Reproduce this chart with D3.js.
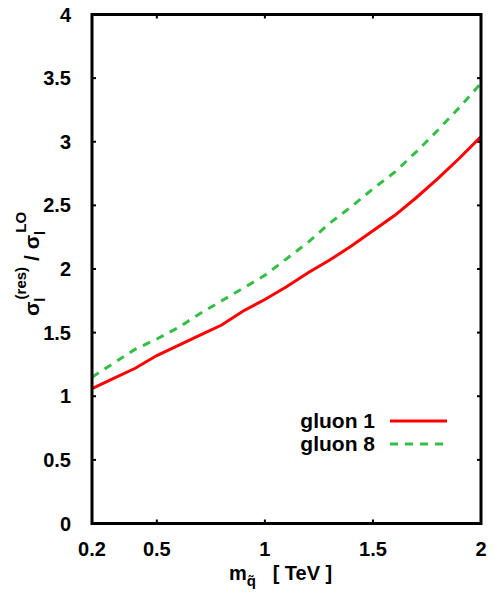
<!DOCTYPE html>
<html>
<head>
<meta charset="utf-8">
<script src="https://cdn.jsdelivr.net/npm/d3@7"></script>
<style>
  html, body { margin: 0; padding: 0; background: #fff; }
  svg text { font-family: "Liberation Sans", Arial, sans-serif; font-weight: bold; fill: #000; }
</style>
</head>
<body>
<svg id="chart" width="495" height="596"></svg>
<script>
// squark mass in TeV
const masses = [0.2, 0.3, 0.4, 0.5, 0.6, 0.7, 0.8, 0.9, 1.0, 1.1, 1.2, 1.3, 1.4, 1.5, 1.6, 1.7, 1.8, 1.9, 2.0];
// resummed / LO cross-section ratio for each gluon colour state
const gluon1 = [1.06, 1.14, 1.22, 1.32, 1.40, 1.48, 1.56, 1.67, 1.76, 1.86, 1.97, 2.07, 2.18, 2.30, 2.42, 2.56, 2.71, 2.87, 3.04];
const gluon8 = [1.15, 1.26, 1.37, 1.45, 1.54, 1.65, 1.75, 1.85, 1.95, 2.08, 2.21, 2.36, 2.49, 2.63, 2.76, 2.92, 3.09, 3.27, 3.46];
const seriesNames = ["gluon 1", "gluon 8"];
const xTicks = [0.2, 0.5, 1, 1.5, 2];
const xTickLabels = ["0.2", "0.5", "1", "1.5", "2"];
const yTicks = [0, 0.5, 1, 1.5, 2, 2.5, 3, 3.5, 4];
const yTickLabels = ["0", "0.5", "1", "1.5", "2", "2.5", "3", "3.5", "4"];

const svg = d3.select("#chart");
const plotL = 92, plotR = 481, plotT = 14.5, plotB = 523.5;

const x = d3.scaleLinear().domain([0.2, 2]).range([plotL, plotR]);
const y = d3.scaleLinear().domain([0, 4]).range([plotB, plotT]);

const fontSize = 20;
const smallSize = 15;

// inner tick marks on all four sides (skip the corners)
const tickLen = 4;
const g = svg.append("g");
xTicks.filter(v => v > 0.2 && v < 2).forEach(v => {
  g.append("line").attr("x1", x(v)).attr("x2", x(v)).attr("y1", plotB).attr("y2", plotB - tickLen)
    .attr("stroke", "#000").attr("stroke-width", 2);
  g.append("line").attr("x1", x(v)).attr("x2", x(v)).attr("y1", plotT).attr("y2", plotT + tickLen)
    .attr("stroke", "#000").attr("stroke-width", 2);
});
yTicks.filter(v => v > 0 && v < 4).forEach(v => {
  g.append("line").attr("x1", plotL).attr("x2", plotL + tickLen).attr("y1", y(v)).attr("y2", y(v))
    .attr("stroke", "#000").attr("stroke-width", 2);
  g.append("line").attr("x1", plotR).attr("x2", plotR - tickLen).attr("y1", y(v)).attr("y2", y(v))
    .attr("stroke", "#000").attr("stroke-width", 2);
});

// tick labels
svg.append("g").selectAll("text").data(xTicks).join("text")
  .attr("x", d => x(d)).attr("y", 556)
  .attr("text-anchor", "middle").attr("font-size", fontSize)
  .text((d, i) => xTickLabels[i]);
svg.append("g").selectAll("text").data(yTicks).join("text")
  .attr("x", 71).attr("y", d => y(d) + 7)
  .attr("text-anchor", "end").attr("font-size", fontSize)
  .text((d, i) => yTickLabels[i]);

// curves
const line = d3.line().x(d => x(d[0])).y(d => y(d[1]));
const colors = ["#ff0000", "#33bf46"];
const dashes = [null, "8,7"];
[gluon1, gluon8].forEach((vals, i) => {
  svg.append("path")
    .datum(masses.map((m, j) => [m, vals[j]]))
    .attr("d", line)
    .attr("fill", "none")
    .attr("stroke", colors[i])
    .attr("stroke-width", 3)
    .attr("stroke-dasharray", dashes[i]);
});

// legend
const legY = [421, 444];
seriesNames.forEach((name, i) => {
  svg.append("text").attr("x", 375).attr("y", legY[i] + 7)
    .attr("text-anchor", "end").attr("font-size", fontSize + 1).text(name);
  svg.append("line").attr("x1", 390).attr("x2", 447).attr("y1", legY[i]).attr("y2", legY[i])
    .attr("stroke", colors[i]).attr("stroke-width", 3).attr("stroke-dasharray", dashes[i]);
});

// frame
svg.append("rect").attr("x", plotL).attr("y", plotT)
  .attr("width", plotR - plotL).attr("height", plotB - plotT)
  .attr("fill", "none").attr("stroke", "#000").attr("stroke-width", 3);

// x axis title: m with q-tilde subscript
const xt = svg.append("text").attr("x", 229).attr("y", 580).attr("font-size", fontSize)
  .attr("xml:space", "preserve");
xt.append("tspan").text("m");
xt.append("tspan").attr("font-size", smallSize).attr("dy", 6).text("q\u0303");
xt.append("tspan").attr("dy", -6).text("   [ TeV ]");

// y axis title: sigma_l^(res) / sigma_l^LO, rotated
const yt = svg.append("text").attr("transform", "translate(39,316) rotate(-90)")
  .attr("font-size", fontSize + 1);
yt.append("tspan").text("σ");
yt.append("tspan").attr("font-size", smallSize).attr("dy", 6).text("l");
yt.append("tspan").attr("font-size", smallSize).attr("dx", -2).attr("dy", -19).text("(res)");
yt.append("tspan").attr("dy", 13).attr("dx", 6).text("/ σ");
yt.append("tspan").attr("font-size", smallSize).attr("dy", 6).text("l");
yt.append("tspan").attr("font-size", smallSize).attr("dx", -2).attr("dy", -19).text("LO");
</script>
</body>
</html>
